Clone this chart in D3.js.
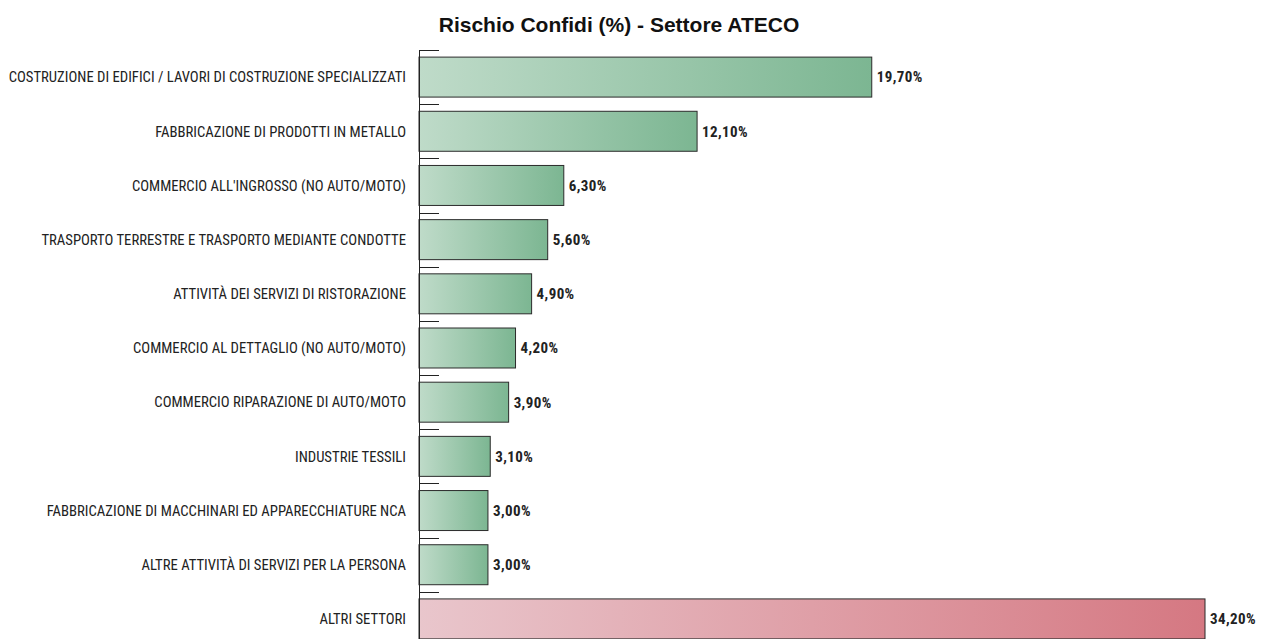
<!DOCTYPE html>
<html>
<head>
<meta charset="utf-8">
<script src="https://cdn.jsdelivr.net/npm/d3@7"></script>
<style>
  html, body { margin: 0; padding: 0; background: #fff; }
  svg { display: block; }
</style>
</head>
<body>
<svg id="chart" width="1261" height="639"></svg>
<script>
// Sector labels (ATECO) and their share of Confidi risk, in percent
const categories = [
  "COSTRUZIONE DI EDIFICI / LAVORI DI COSTRUZIONE SPECIALIZZATI",
  "FABBRICAZIONE DI PRODOTTI IN METALLO",
  "COMMERCIO ALL'INGROSSO (NO AUTO/MOTO)",
  "TRASPORTO TERRESTRE E TRASPORTO MEDIANTE CONDOTTE",
  "ATTIVITÀ DEI SERVIZI DI RISTORAZIONE",
  "COMMERCIO AL DETTAGLIO (NO AUTO/MOTO)",
  "COMMERCIO RIPARAZIONE DI AUTO/MOTO",
  "INDUSTRIE TESSILI",
  "FABBRICAZIONE DI MACCHINARI ED APPARECCHIATURE NCA",
  "ALTRE ATTIVITÀ DI SERVIZI PER LA PERSONA",
  "ALTRI SETTORI"
];
const values = [19.7, 12.1, 6.3, 5.6, 4.9, 4.2, 3.9, 3.1, 3.0, 3.0, 34.2];
const groups = ["sector", "sector", "sector", "sector", "sector", "sector",
                "sector", "sector", "sector", "sector", "other"];
const chartTitle = "Rischio Confidi (%) - Settore ATECO";

const svg = d3.select("#chart");
const axisX = 419;

const x = d3.scaleLinear().domain([0, 34.2]).range([axisX, 1205]);
const y = d3.scaleBand()
  .domain(categories)
  .range([50, 646])
  .paddingInner(0.262)
  .paddingOuter(0.131);

// Horizontal gradients for the two bar groups
const defs = svg.append("defs");
const grads = {
  sector: ["#bfdbc9", "#7cb692"],
  other: ["#e9c6cc", "#d57882"]
};
Object.entries(grads).forEach(([id, [c0, c1]]) => {
  const g = defs.append("linearGradient").attr("id", "grad-" + id)
    .attr("x1", "0%").attr("x2", "100%").attr("y1", "0%").attr("y2", "0%");
  g.append("stop").attr("offset", "0%").attr("stop-color", c0);
  g.append("stop").attr("offset", "100%").attr("stop-color", c1);
});

// Title
svg.append("text")
  .attr("x", 619).attr("y", 32)
  .attr("text-anchor", "middle")
  .attr("font-family", "'Liberation Sans', Arial, sans-serif")
  .attr("font-weight", "bold")
  .attr("font-size", 21)
  .attr("fill", "#111")
  .text(chartTitle);

// Bars
const rows = categories.map((c, i) => ({ cat: c, v: values[i], g: groups[i] }));

svg.append("g").selectAll("rect").data(rows).join("rect")
  .attr("x", axisX)
  .attr("y", d => y(d.cat))
  .attr("width", d => x(d.v) - axisX)
  .attr("height", y.bandwidth())
  .attr("fill", d => `url(#grad-${d.g})`)
  .attr("stroke", "#2b2b2b")
  .attr("stroke-width", 1);

// Band separator ticks along the axis
const step = y.step();
const tickYs = categories.map(c => y(c) - step * y.paddingInner() / 2);
svg.append("g").selectAll("line").data(tickYs).join("line")
  .attr("x1", axisX).attr("x2", axisX + 20)
  .attr("y1", d => Math.round(d) + 0.5).attr("y2", d => Math.round(d) + 0.5)
  .attr("stroke", "#222").attr("stroke-width", 1);

// Vertical axis line
svg.append("line")
  .attr("x1", axisX + 0.5).attr("x2", axisX + 0.5)
  .attr("y1", Math.round(tickYs[0])).attr("y2", 639)
  .attr("stroke", "#222").attr("stroke-width", 1);

const labelFont = "'Liberation Sans Narrow', 'Arial Narrow', 'Roboto Condensed', sans-serif";

// Category labels
svg.append("g").selectAll("text").data(rows).join("text")
  .attr("x", 406)
  .attr("y", d => y(d.cat) + y.bandwidth() / 2)
  .attr("dy", "0.36em")
  .attr("text-anchor", "end")
  .attr("font-family", labelFont)
  .attr("font-size", 14.7)
  .attr("fill", "#222")
  .text(d => d.cat);

// Value labels
const fmt = v => v.toFixed(2).replace(".", ",") + "%";
svg.append("g").selectAll("text").data(rows).join("text")
  .attr("x", d => x(d.v) + 5)
  .attr("y", d => y(d.cat) + y.bandwidth() / 2)
  .attr("dy", "0.36em")
  .attr("font-family", labelFont)
  .attr("font-weight", "bold")
  .attr("font-size", 15)
  .attr("letter-spacing", 0.4)
  .attr("fill", "#222")
  .text(d => fmt(d.v));
</script>
</body>
</html>
